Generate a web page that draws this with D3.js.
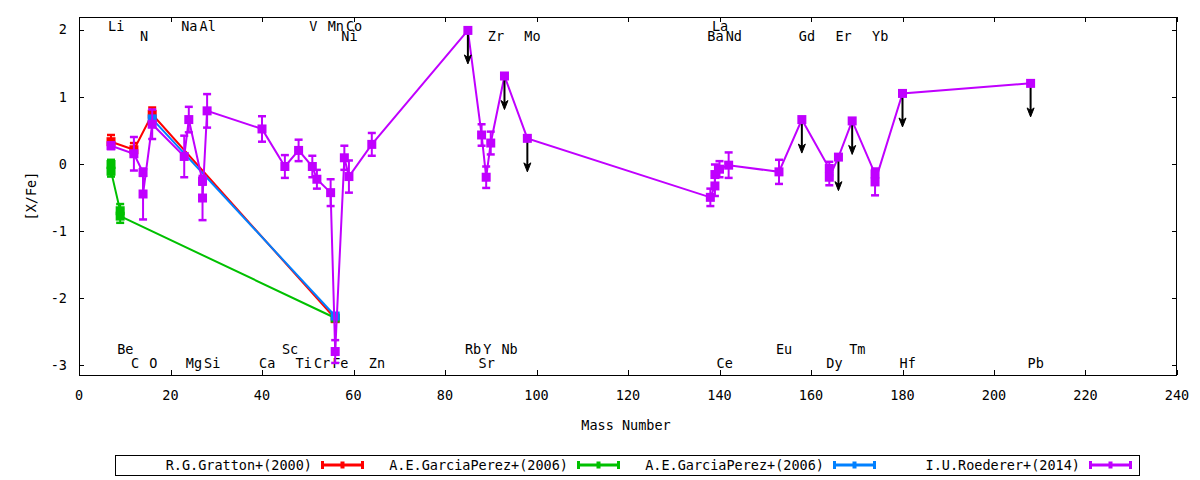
<!DOCTYPE html>
<html><head><meta charset="utf-8">
<script src="https://cdn.jsdelivr.net/npm/d3@7"></script>
<style>
body{margin:0;background:#fff}
text{font-family:"DejaVu Sans Mono",monospace;font-size:13.5px;fill:#000}
</style>
</head><body>
<svg id="chart" width="1200" height="480"></svg>
<script>
// ---------- data ----------
const xTicks = [0,20,40,60,80,100,120,140,160,180,200,220,240];
const yTicks = [-3,-2,-1,0,1,2];

const seriesNames = ["R.G.Gratton+(2000)","A.E.GarciaPerez+(2006)","A.E.GarciaPerez+(2006)","I.U.Roederer+(2014)"];
const seriesColors = ["#ff0000","#00c000","#0080ff","#c000ff"];

const grattonA = [7, 12, 16, 56];
const grattonV = [0.33, 0.21, 0.74, -2.31];
const grattonE = [0.1, 0.1, 0.1, 0.0];

const garcia1A = [7, 7, 9, 9, 56];
const garcia1V = [-0.01, -0.11, -0.70, -0.78, -2.30];
const garcia1E = [0.07, 0.08, 0.10, 0.10, 0.0];

const garcia2A = [16, 56];
const garcia2V = [0.67, -2.27];
const garcia2E = [0.0, 0.0];

const roedA = [7,12,14,14,16,23,24,27,27,28,40,45,48,51,52,55,56,58,59,64,
               85,88,89,90,93,98,138,139,139,140,142,153,158,164,164,166,169,174,174,180,208];
const roedV = [0.27,0.15,-0.13,-0.45,0.59,0.11,0.66,-0.26,-0.51,0.79,0.52,-0.04,0.20,-0.04,-0.23,-0.43,-2.80,0.09,-0.19,0.29,
               1.99,0.43,-0.20,0.31,1.31,0.38,-0.50,-0.33,-0.16,-0.08,-0.02,-0.12,0.66,-0.07,-0.20,0.10,0.64,-0.15,-0.27,1.05,1.20];
const roedE = [0.05,0.25,0.05,0.38,0.22,0.31,0.19,0.05,0.33,0.25,0.19,0.17,0.16,0.16,0.14,0.20,0.17,0.18,0.24,0.17,
               0,0.16,0.16,0.17,0,0,0.13,0.15,0.15,0.12,0.19,0.18,0,0.10,0.12,0,0,0.06,0.20,0,0];
const roedLimit = [0,0,0,0,0,0,0,0,0,0,0,0,0,0,0,0,0,0,0,0,
                   1,0,0,0,1,1,0,0,0,0,0,0,1,0,0,1,1,0,0,1,1];
const limitLength = 0.5;

const labelNames = ["Li","Na","Al","V","Mn","Co","La",
                    "N","Ni","Zr","Mo","Ba","Nd","Gd","Er","Yb",
                    "Be","Sc","Rb","Y","Nb","Eu","Tm",
                    "C","O","Mg","Si","Ca","Ti","Cr","Fe","Zn","Sr","Ce","Dy","Hf","Pb"];
const labelMass  = [7,23,27,51,55,59,139,
                    14,58,90,98,138,142,158,166,174,
                    9,45,85,89,93,153,169,
                    12,16,24,28,40,48,52,56,64,88,140,164,180,208];
const labelY     = [2.05,2.05,2.05,2.05,2.05,2.05,2.05,
                    1.9,1.9,1.9,1.9,1.9,1.9,1.9,1.9,1.9,
                    -2.77,-2.77,-2.77,-2.77,-2.77,-2.77,-2.77,
                    -2.97,-2.97,-2.97,-2.97,-2.97,-2.97,-2.97,-2.97,-2.97,-2.97,-2.97,-2.97,-2.97,-2.97];

// ---------- layout ----------
const svg = d3.select("#chart");
const x = d3.scaleLinear().domain([0,240]).range([79,1177]);
const y = d3.scaleLinear().domain([-3.15,2.19]).range([375,17]);
const L = 79, R = 1177, T = 17, B = 375;

// frame
svg.append("rect").attr("x",L+0.5).attr("y",T+0.5).attr("width",R-L-1).attr("height",B-T)
  .attr("fill","none").attr("stroke","#000").attr("stroke-width",1);

const tl = 5;
// x ticks
xTicks.forEach(t=>{
  const px = Math.round(x(t))+0.5;
  svg.append("line").attr("x1",px).attr("x2",px).attr("y1",B).attr("y2",B-tl).attr("stroke","#000");
  svg.append("line").attr("x1",px).attr("x2",px).attr("y1",T).attr("y2",T+tl).attr("stroke","#000");
  svg.append("text").attr("x",x(t)).attr("y",400).attr("text-anchor","middle").text(t);
});
// y ticks
yTicks.forEach(t=>{
  const py = Math.round(y(t))+0.5;
  svg.append("line").attr("x1",L).attr("x2",L+tl).attr("y1",py).attr("y2",py).attr("stroke","#000");
  svg.append("line").attr("x1",R).attr("x2",R-tl).attr("y1",py).attr("y2",py).attr("stroke","#000");
  svg.append("text").attr("x",67).attr("y",y(t)).attr("dy","0.35em").attr("text-anchor","end").text(t);
});
svg.append("text").attr("transform","translate(36,196) rotate(-90)").attr("text-anchor","middle").text("[X/Fe]");
svg.append("text").attr("x",626).attr("y",430).attr("text-anchor","middle").text("Mass Number");

// element labels
labelNames.forEach((n,i)=>{
  svg.append("text").attr("x",x(labelMass[i])-3).attr("y",y(labelY[i])).attr("dy","0.35em").text(n);
});

// ---------- series ----------
const line = d3.line().x(d=>x(d.a)).y(d=>y(d.v));
function drawSeries(A,V,E,color,lim,beforePoints){
  const data = A.map((a,i)=>({a,v:V[i],e:E[i],lim:lim?lim[i]:0}));
  const g = svg.append("g");
  g.append("path").datum(data).attr("d",line).attr("fill","none").attr("stroke",color).attr("stroke-width",2);
  data.filter(d=>d.e>0).forEach(d=>{
    const px = x(d.a);
    g.append("line").attr("x1",px).attr("x2",px).attr("y1",y(d.v-d.e)).attr("y2",y(d.v+d.e)).attr("stroke",color).attr("stroke-width",2);
    [d.v-d.e,d.v+d.e].forEach(v=>{
      g.append("line").attr("x1",px-4).attr("x2",px+4).attr("y1",y(v)).attr("y2",y(v)).attr("stroke",color).attr("stroke-width",2.5);
    });
  });
  if(beforePoints) beforePoints(g,data);
  g.selectAll("rect.pt").data(data).enter().append("rect").attr("class","pt")
    .attr("x",d=>x(d.a)-4.5).attr("y",d=>y(d.v)-4.5).attr("width",9).attr("height",9).attr("fill",color);
}
function arrows(g,data){
  data.filter(d=>d.lim).forEach(d=>{
    const px = x(d.a), y0 = y(d.v), y1 = y(d.v-limitLength);
    g.append("line").attr("x1",px).attr("x2",px).attr("y1",y0).attr("y2",y1-4).attr("stroke","#000").attr("stroke-width",2);
    g.append("path").attr("d",`M${px},${y1} L${px-3.5},${y1-9} L${px},${y1-6.5} L${px+3.5},${y1-9} Z`).attr("fill","#000").attr("stroke","#000").attr("stroke-width",1);
  });
}
drawSeries(grattonA,grattonV,grattonE,seriesColors[0]);
drawSeries(garcia1A,garcia1V,garcia1E,seriesColors[1]);
drawSeries(garcia2A,garcia2V,garcia2E,seriesColors[2]);
drawSeries(roedA,roedV,roedE,seriesColors[3],roedLimit,arrows);

// ---------- legend ----------
const lgX = 115, lgY = 455, lgW = 1024, lgH = 20, entW = 256;
svg.append("rect").attr("x",lgX+0.5).attr("y",lgY+0.5).attr("width",lgW).attr("height",lgH)
  .attr("fill","none").attr("stroke","#000").attr("stroke-width",1);
seriesNames.forEach((n,i)=>{
  const x0 = lgX + i*entW;
  const cy = lgY + lgH/2;
  svg.append("text").attr("x",x0+197).attr("y",cy).attr("dy","0.35em").attr("text-anchor","end").text(n);
  const c = seriesColors[i];
  const s0 = x0+206, s1 = x0+249;
  svg.append("line").attr("x1",s0).attr("x2",s1).attr("y1",cy).attr("y2",cy).attr("stroke",c).attr("stroke-width",3);
  [s0+1.5,s1-1.5].forEach(sx=>svg.append("line").attr("x1",sx).attr("x2",sx).attr("y1",cy-4).attr("y2",cy+4).attr("stroke",c).attr("stroke-width",3));
  svg.append("rect").attr("x",(s0+s1)/2-2).attr("y",cy-3.5).attr("width",4).attr("height",7).attr("fill",c);
});
</script>
</body></html>
